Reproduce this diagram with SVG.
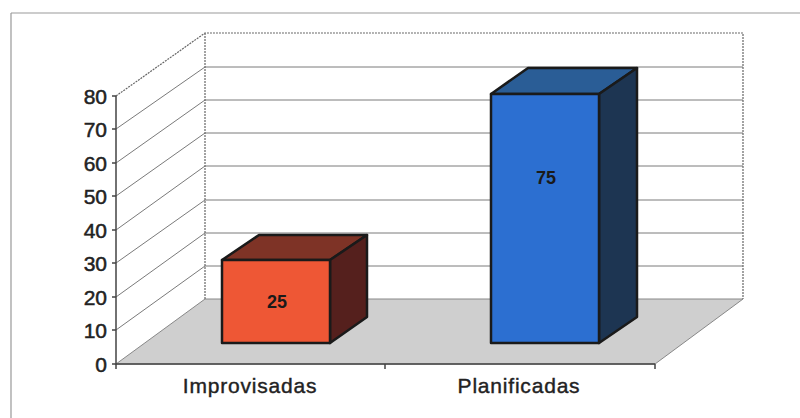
<svg xmlns="http://www.w3.org/2000/svg" width="800" height="418" viewBox="0 0 800 418">
<style>
.grid{stroke:#7a7a7a;stroke-width:1;fill:none}
.wall{stroke:#666;stroke-width:1.2;fill:none;stroke-dasharray:2 1}
.axis{stroke:#444;stroke-width:1.5;fill:none}
.tick{font-family:"Liberation Sans",Arial,sans-serif;font-size:21px;fill:#222;stroke:#222;stroke-width:0.5;text-anchor:end}
.cat{font-family:"Liberation Sans",Arial,sans-serif;font-size:21px;fill:#222;stroke:#222;stroke-width:0.4;text-anchor:middle;letter-spacing:0.8px}
.val{font-family:"Liberation Sans",Arial,sans-serif;font-size:18px;font-weight:bold;fill:#1a1a1a;text-anchor:middle}
.edge{stroke:#1a1a1a;stroke-width:2.5;stroke-linejoin:round}
</style>
<rect width="800" height="418" fill="#ffffff"/>
<g id="frame">
<path d="M11,13 H800 M11,13 V418" stroke="#999" stroke-width="1.2" fill="none"/>
</g>
<g id="floor">
<polygon points="116,364 205,299 743,299 655,364" fill="#cfcfcf" stroke="#888" stroke-width="1"/>
</g>
<g id="walls">
<path class="grid" d="M205,67 H743 M205,100 H743 M205,133 H743 M205,166 H743 M205,200 H743 M205,233 H743 M205,266 H743"/>
<path class="grid" d="M116,330 L205,266 M116,297 L205,233 M116,263 L205,200 M116,230 L205,166 M116,196 L205,133 M116,163 L205,100 M116,129 L205,67"/>
<path class="wall" d="M116,96 L205,33 H743 V299 M205,33 V299"/>
</g>
<g id="axis">
<path class="axis" d="M116,96 V364 H655"/>
<path class="axis" d="M112,96 H116 M112,129 H116 M112,163 H116 M112,196 H116 M112,230 H116 M112,263 H116 M112,297 H116 M112,330 H116 M112,364 H116 M116,364 V369 M385,364 V369 M655,364 V369"/>
<text class="tick" x="107" y="104">80</text>
<text class="tick" x="107" y="137">70</text>
<text class="tick" x="107" y="171">60</text>
<text class="tick" x="107" y="204">50</text>
<text class="tick" x="107" y="238">40</text>
<text class="tick" x="107" y="271">30</text>
<text class="tick" x="107" y="305">20</text>
<text class="tick" x="107" y="338">10</text>
<text class="tick" x="107" y="372">0</text>
<text class="cat" x="250" y="393">Improvisadas</text>
<text class="cat" x="519" y="393">Planificadas</text>
</g>
<g id="bar-improvisadas">
<polygon class="edge" points="222,260 259,235 367,235 330,260" fill="#7e3326"/>
<polygon class="edge" points="330,260 367,235 367,317 330,343" fill="#55201d"/>
<rect class="edge" x="222" y="260" width="108" height="83" fill="#ee5735"/>
<text class="val" x="277" y="308">25</text>
</g>
<g id="bar-planificadas">
<polygon class="edge" points="491,94 528,68 637,68 599,94" fill="#2a5d96"/>
<polygon class="edge" points="599,94 637,68 637,317 599,343" fill="#1d3552"/>
<rect class="edge" x="491" y="94" width="108" height="249" fill="#2c6fd1"/>
<text class="val" x="546" y="184">75</text>
</g>
</svg>
